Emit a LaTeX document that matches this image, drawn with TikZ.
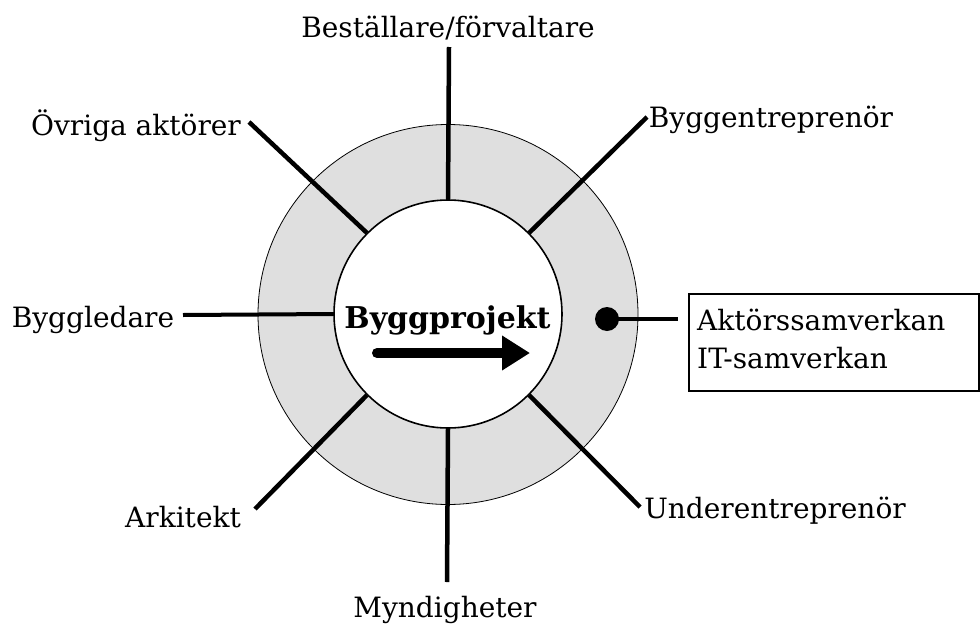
\documentclass[tikz,border=0pt]{standalone}
\usepackage{fontspec}
\setmainfont{DejaVu Serif}
\usetikzlibrary{arrows.meta}
\definecolor{ringgray}{HTML}{DFDFDF}
\begin{document}
\begin{tikzpicture}[x=1pt,y=-1pt,
  lbl/.style={font=\fontsize{28}{34}\selectfont, inner sep=0pt, anchor=base},
  spoke/.style={line width=4.5pt},
  ]
\useasboundingbox (0,0) rectangle (980,624);
\node[circle, draw, fill=ringgray, line width=0.8pt, minimum size=380pt, inner sep=0pt] (outer) at (448,314.5) {};
\node[circle, draw, fill=white, line width=1.6pt, minimum size=228pt, inner sep=0pt] (inner) at (448,314) {};
% free ends
\coordinate (eT) at (449,47);
\coordinate (eTL) at (249,122);
\coordinate (eTR) at (647,117);
\coordinate (eL) at (183,315);
\coordinate (eBL) at (255,509);
\coordinate (eB) at (447,582);
\coordinate (eBR) at (640,507);
% labels
\node[lbl] (best) at (448,37) {Beställare/förvaltare};
\node[lbl] (ovr) at (136,135) {Övriga aktörer};
\node[lbl] (bent) at (771,127) {Byggentreprenör};
\node[lbl] (bled) at (93,327) {Byggledare};
\node[lbl] (ark) at (183,527) {Arkitekt};
\node[lbl] (uent) at (775,518) {Underentreprenör};
\node[lbl] (mynd) at (445,617) {Myndigheter};
% spokes
\draw[spoke] (inner.90) -- (eT);
\draw[spoke] (inner.135) -- (eTL);
\draw[spoke] (inner.45) -- (eTR);
\draw[spoke, line width=4pt] (inner.180) -- (eL);
\draw[spoke] (inner.225) -- (eBL);
\draw[spoke] (inner.270) -- (eB);
\draw[spoke] (inner.315) -- (eBR);
% center
\node[font=\bfseries\fontsize{30}{36}\selectfont, inner sep=0pt, anchor=base] (proj) at (447.5,328) {Byggprojekt};
\draw[line width=10pt, line cap=round, -{Triangle[length=28pt,width=33pt]}] (377,353) -- (530,353);
% box
\node[circle, fill=black, minimum size=24pt, inner sep=0pt] (dot) at (607,319) {};
\node[draw, line width=1.5pt, anchor=north west, minimum width=290pt, minimum height=97pt, inner sep=0pt] (box) at (688,293) {};
\node[lbl, anchor=base west] (box1) at (697,330) {Aktörssamverkan};
\node[lbl, anchor=base west] (box2) at (697,368) {IT-samverkan};
\draw[line width=4.5pt, shorten >=10pt] (dot.center) -- (box.west |- dot);
\end{tikzpicture}
\end{document}
